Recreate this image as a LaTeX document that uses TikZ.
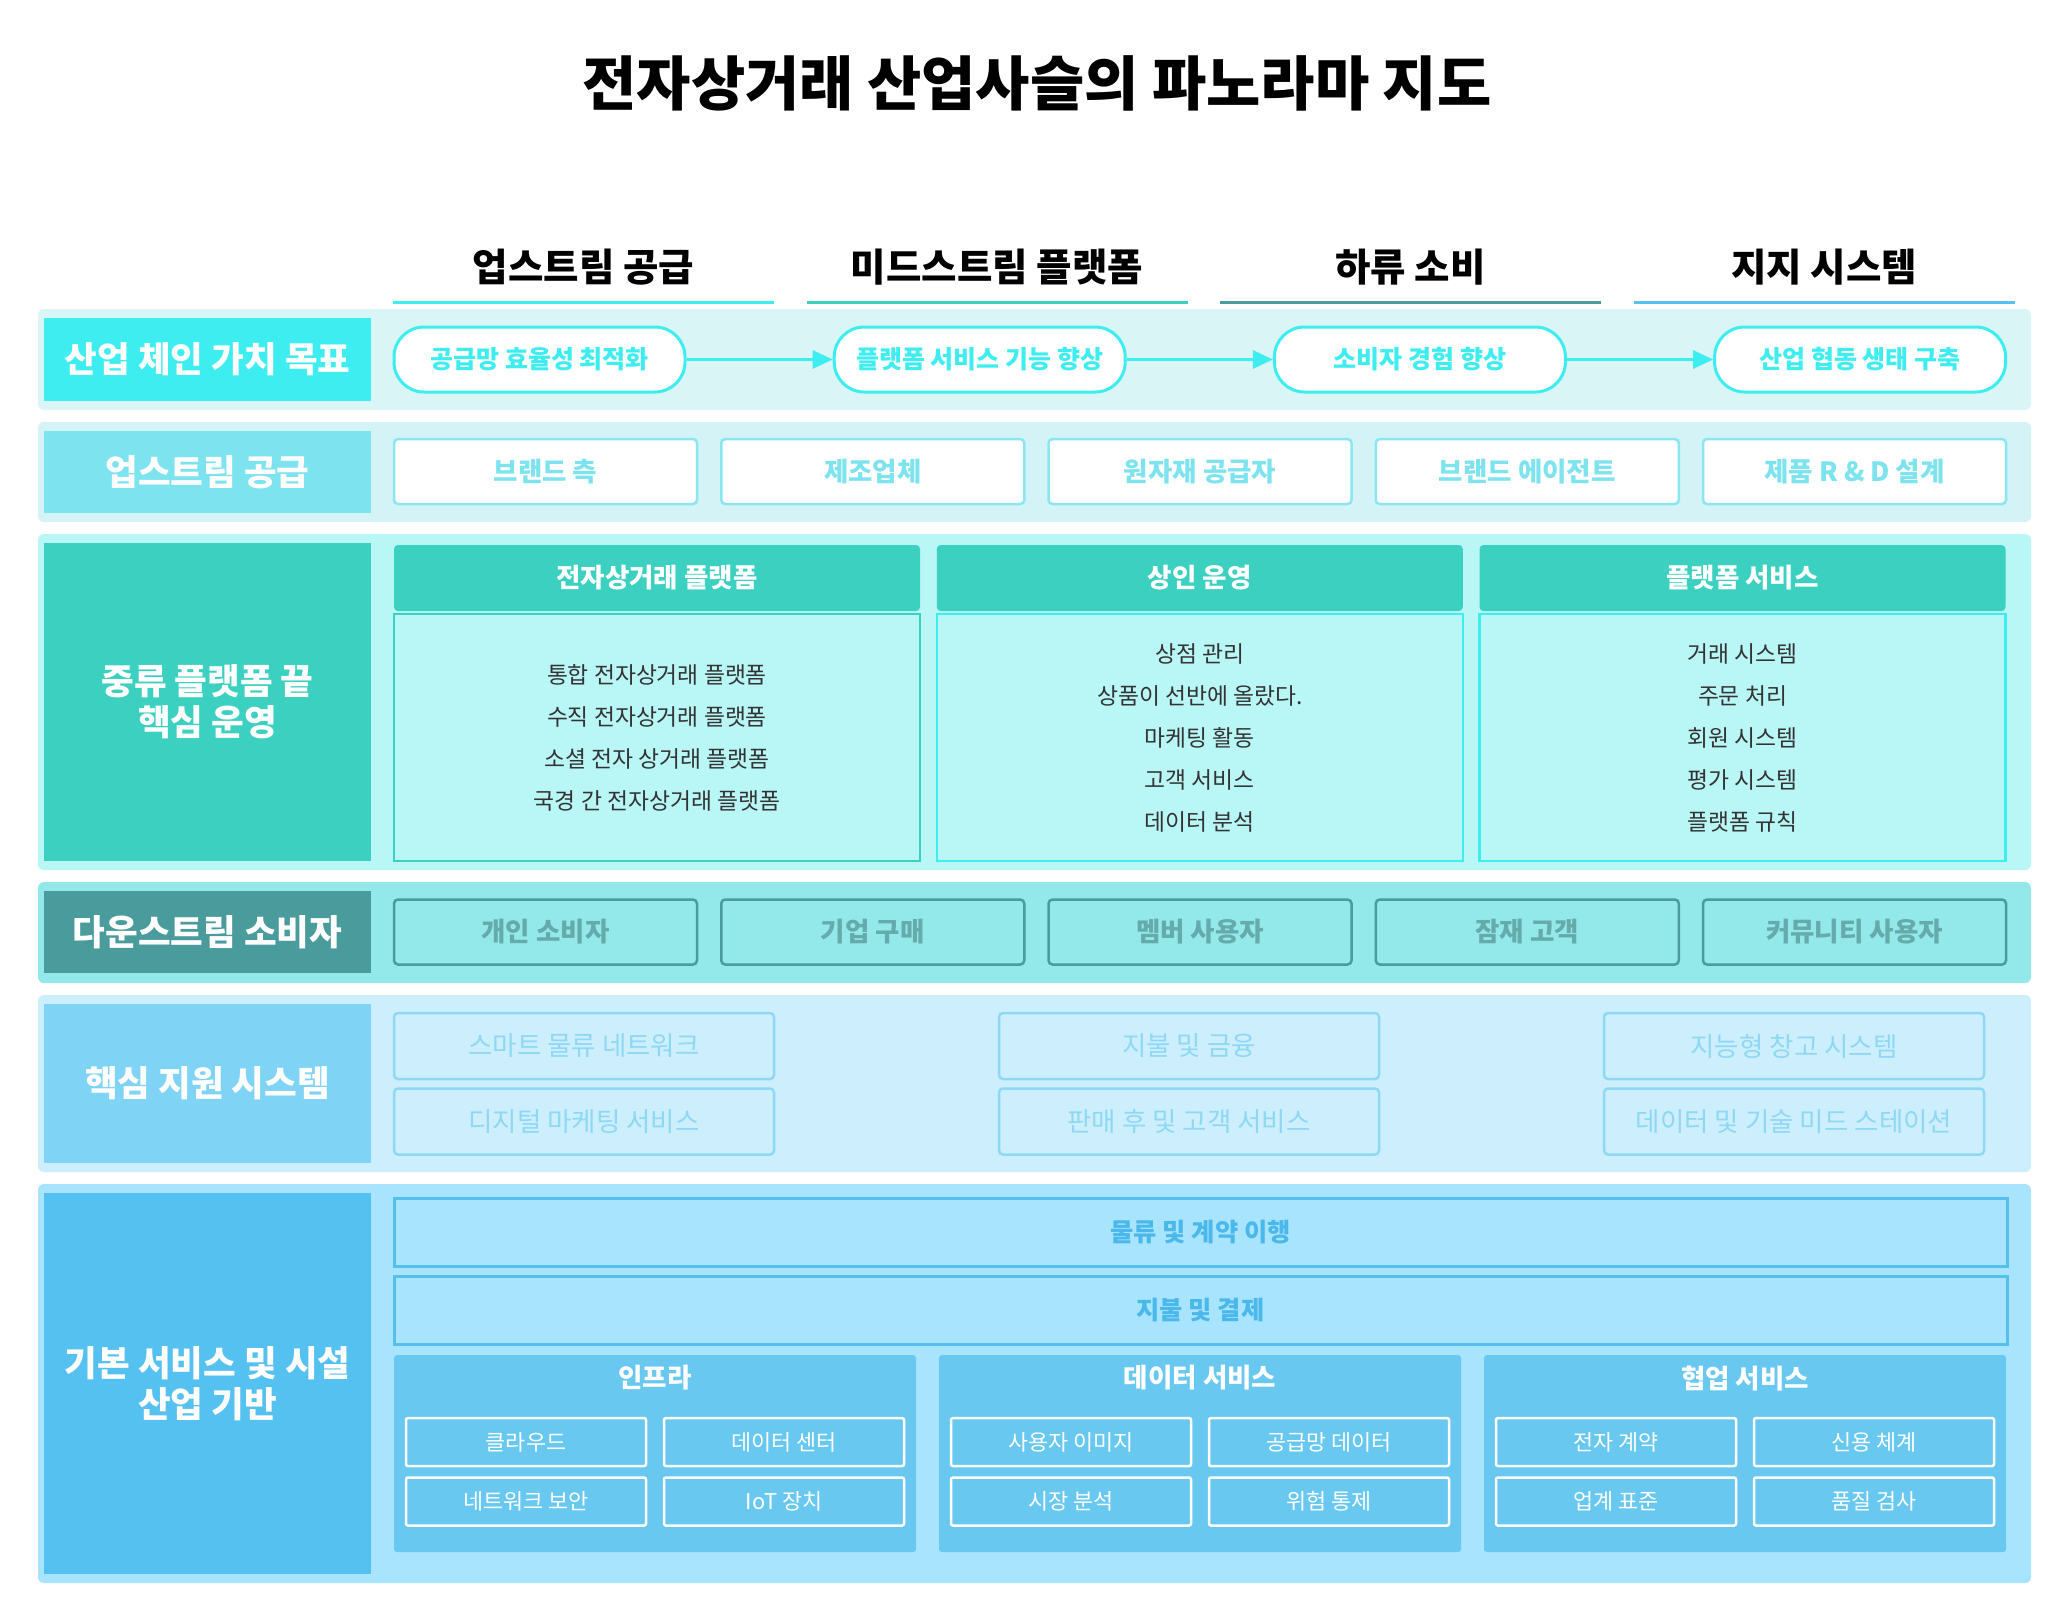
\documentclass[tikz,border=0pt]{standalone}
\usepackage{fontspec}
\setmainfont{Noto Sans CJK KR}
\usetikzlibrary{arrows.meta}
\definecolor{cyanA}{HTML}{3DEDEF}
\definecolor{tealA}{HTML}{3BD0BF}
\definecolor{tealD}{HTML}{4A9C9C}
\definecolor{blueA}{HTML}{55C1F0}
\definecolor{bandA}{HTML}{D9F5F5}
\definecolor{bandB}{HTML}{D3F3F7}
\definecolor{bandC}{HTML}{B9F6F6}
\definecolor{bandD}{HTML}{93E9EA}
\definecolor{bandE}{HTML}{CDEFFD}
\definecolor{bandF}{HTML}{A8E4FD}
\definecolor{lblB}{HTML}{7DE3EE}
\definecolor{lineB}{HTML}{8AE6F0}
\definecolor{lblE}{HTML}{7FD3F5}
\definecolor{lineE}{HTML}{8ED8F5}
\definecolor{lineF}{HTML}{55C0EE}
\definecolor{textF}{HTML}{4AB8EA}
\definecolor{panelF}{HTML}{68C8EF}
\definecolor{bodytxt}{HTML}{333333}
\newcommand\fsz[2]{\fontsize{#1}{#2}\selectfont}
\begin{document}
\begin{tikzpicture}[x=1pt, y=-1pt,
  every node/.style={inner sep=0pt, align=center},
  lbl/.style={minimum width=327pt, text=white, font=\fsz{35.5}{41}\bfseries},
  colhead/.style={font=\fsz{38.5}{44}\bfseries},
  pill/.style={draw=cyanA, line width=3pt, fill=white, rounded corners=30pt, minimum width=291pt, minimum height=65pt, text=cyanA, font=\fsz{25}{30}\bfseries},
  arr/.style={cyanA, line width=3pt, -{Triangle[length=20pt,width=18pt]}},
  ubox/.style={draw=lineB, line width=2.5pt, fill=white, rounded corners=4pt, minimum width=303pt, minimum height=65pt, text=lblB, font=\fsz{26.5}{30}\bfseries},
  dbox/.style={ubox, draw=tealD, fill=bandD, text=tealD!85},
  mhead/.style={fill=tealA, rounded corners=4pt, minimum width=526pt, minimum height=66pt, text=white, font=\fsz{26.5}{30}\bfseries},
  mbody/.style={fill=bandC, line width=2.5pt, minimum width=526pt, minimum height=247pt, text=bodytxt, font=\fsz{22.8}{42}},
  sbox/.style={draw=lineE, line width=2.5pt, fill=bandE, rounded corners=4pt, minimum width=380pt, minimum height=66pt, text=lineE, font=\fsz{26.5}{30}},
  bar/.style={draw=lineF, line width=3pt, fill=bandF, minimum width=1613pt, minimum height=68pt, text=textF, font=\fsz{25.3}{30}\bfseries},
  panel/.style={fill=panelF, rounded corners=3pt, minimum width=522pt, minimum height=197pt},
  ptitle/.style={text=white, font=\fsz{26.5}{30}\bfseries},
  ibox/.style={draw=white, line width=2.5pt, fill=panelF, rounded corners=2pt, minimum width=240pt, minimum height=48pt, text=white, font=\fsz{21.8}{26}}]
  \useasboundingbox (0,0) rectangle (2068,1620);
  \fill[white] (0,0) rectangle (2068,1620);
  \node[font=\fsz{59}{66}\bfseries] (title) at (1037,83) {전자상거래 산업사슬의 파노라마 지도};
  \foreach \t/\c [count=\i] in {업스트림 공급/cyanA, 미드스트림 플랫폼/tealA, 하류 소비/tealD, 지지 시스템/blueA} {
    \node[colhead] (hd\i) at ({583.5+(\i-1)*413.5},267) {\t};
    \draw[\c, line width=3pt] ({393+(\i-1)*413.5},302) -- ({774+(\i-1)*413.5},302);
  }
  \foreach \ya/\yb/\c in {309/410/bandA, 422/522/bandB, 534/870/bandC, 882/983/bandD, 995/1172/bandE, 1184/1583/bandF}
    \fill[\c, rounded corners=6pt] (38,\ya) rectangle (2031,\yb);
  \foreach \y/\h/\c/\t [count=\i] in {359.5/83/cyanA/산업 체인 가치 목표, 472/82/lblB/업스트림 공급, 702/318/tealA/{중류 플랫폼 끝\\핵심 운영}, 932/82/tealD/다운스트림 소비자, 1083.5/159/lblE/핵심 지원 시스템, 1383.5/381/blueA/{기본 서비스 및 시설\\산업 기반}}
    \node[lbl, fill=\c, minimum height={\h pt}] (lb\i) at (207.5,\y) {\t};
  \foreach \t [count=\i] in {공급망 효율성 최적화, 플랫폼 서비스 기능 향상, 소비자 경험 향상, 산업 협동 생태 구축}
    \node[pill] (p\i) at ({539.5+(\i-1)*440.2},359.5) {\t};
  \foreach \i in {1,2,3}
    \draw[arr] (p\i) -- (p\the\numexpr\i+1\relax);
  \foreach \t [count=\i] in {브랜드 측, 제조업체, 원자재 공급자, 브랜드 에이전트, 제품 R \& D 설계}
    \node[ubox] (u\i) at ({545.5+(\i-1)*327.25},471.5) {\t};
  \foreach \t/\c/\b [count=\i] in {전자상거래 플랫폼/tealA/{통합 전자상거래 플랫폼\\수직 전자상거래 플랫폼\\소셜 전자 상거래 플랫폼\\국경 간 전자상거래 플랫폼}, 상인 운영/cyanA/{상점 관리\\상품이 선반에 올랐다.\\마케팅 활동\\고객 서비스\\데이터 분석}, 플랫폼 서비스/cyanA/{거래 시스템\\주문 처리\\회원 시스템\\평가 시스템\\플랫폼 규칙}} {
    \node[mhead] (mh\i) at ({657+(\i-1)*542.75},578) {\t};
    \node[mbody, draw=\c] (mb\i) at ({657+(\i-1)*542.75},737.5) {\b};
  }
  \foreach \t [count=\i] in {개인 소비자, 기업 구매, 멤버 사용자, 잠재 고객, 커뮤니티 사용자}
    \node[dbox] (d\i) at ({545.5+(\i-1)*327.25},932) {\t};
  \foreach \a/\b [count=\i] in {스마트 물류 네트워크/디지털 마케팅 서비스, 지불 및 금융/판매 후 및 고객 서비스, 지능형 창고 시스템/데이터 및 기술 미드 스테이션} {
    \node[sbox] (sa\i) at ({584+(\i-1)*605},1046) {\a};
    \node[sbox] (sb\i) at ({584+(\i-1)*605},1121.5) {\b};
  }
  \node[bar] (b1) at (1200.5,1232) {물류 및 계약 이행};
  \node[bar] (b2) at (1200.5,1310) {지불 및 결제};
  \foreach \t/\a/\b/\c/\d [count=\i] in {인프라/클라우드/데이터 센터/네트워크 보안/IoT 장치, 데이터 서비스/사용자 이미지/공급망 데이터/시장 분석/위험 통제, 협업 서비스/전자 계약/신용 체계/업계 표준/품질 검사} {
    \node[panel] (f\i) at ({655+(\i-1)*545},1453.5) {};
    \node[ptitle] (ft\i) at ({655+(\i-1)*545},1378) {\t};
    \node[ibox] (fa\i) at ({526+(\i-1)*545},1442) {\a};
    \node[ibox] (fb\i) at ({784+(\i-1)*545},1442) {\b};
    \node[ibox] (fc\i) at ({526+(\i-1)*545},1501.5) {\c};
    \node[ibox] (fd\i) at ({784+(\i-1)*545},1501.5) {\d};
  }
\end{tikzpicture}
\end{document}
